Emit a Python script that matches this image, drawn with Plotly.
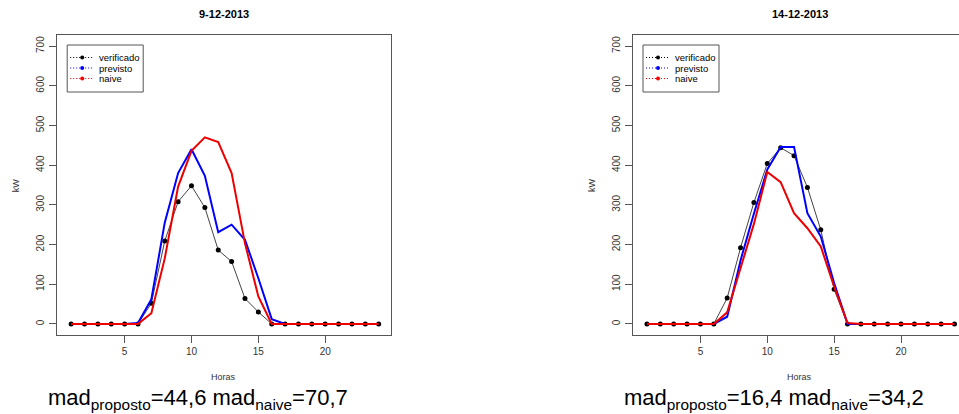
import plotly.graph_objects as go

# ---------------- data ----------------
hours = list(range(1, 25))

title_left = "9-12-2013"
verificado_left = [0, 0, 0, 0, 0, 0, 52, 209, 308, 348, 293, 186, 157, 64, 30, 0, 0, 0, 0, 0, 0, 0, 0, 0]
previsto_left = [0, 0, 0, 0, 0, 2, 62, 255, 380, 440, 373, 231, 250, 212, 115, 12, 0, 0, 0, 0, 0, 0, 0, 0]
naive_left = [0, 0, 0, 0, 0, 0, 27, 165, 346, 436, 470, 458, 380, 203, 69, 0, 0, 0, 0, 0, 0, 0, 0, 0]
mad_left = ("44,6", "70,7")

title_right = "14-12-2013"
verificado_right = [0, 0, 0, 0, 0, 0, 65, 192, 306, 404, 444, 424, 344, 237, 87, 0, 0, 0, 0, 0, 0, 0, 0, 0]
previsto_right = [0, 0, 0, 0, 0, 0, 18, 160, 278, 389, 446, 446, 279, 220, 103, 0, 0, 0, 0, 0, 0, 0, 0, 0]
naive_right = [0, 0, 0, 0, 0, 0, 29, 138, 252, 383, 357, 279, 241, 195, 94, 2, 0, 0, 0, 0, 0, 0, 0, 0]
mad_right = ("16,4", "34,2")

x_ticks = [5, 10, 15, 20]
y_ticks = [0, 100, 200, 300, 400, 500, 600, 700]
legend_labels = ["verificado", "previsto", "naive"]
legend_colors = ["black", "blue", "red"]

# ---------------- layout helpers ----------------
W, H = 959, 414
FONT = "Arial, Liberation Sans, sans-serif"
AX = "#555555"
TXT = "#333333"


def fx(p):
    return p / W


def fy(p):
    return 1 - p / H


box_w = 334.3
left_x0 = 56.7
right_x0 = 632.5
top_y, bot_y = 35, 335

fig = go.Figure()

panels = [
    ("x", "y", verificado_left, previsto_left, naive_left),
    ("x2", "y2", verificado_right, previsto_right, naive_right),
]
for xa, ya, ver, prev, nai in panels:
    fig.add_trace(go.Scatter(x=hours, y=ver, xaxis=xa, yaxis=ya, mode="lines+markers",
                             line=dict(color="#444444", width=1),
                             marker=dict(color="black", size=5), showlegend=False))
    fig.add_trace(go.Scatter(x=hours, y=prev, xaxis=xa, yaxis=ya, mode="lines",
                             line=dict(color="#0000ff", width=2), showlegend=False))
    fig.add_trace(go.Scatter(x=hours, y=nai, xaxis=xa, yaxis=ya, mode="lines",
                             line=dict(color="#ee0000", width=2), showlegend=False))

common_x = dict(tickvals=x_ticks, ticks="outside", ticklen=7, tickcolor=AX, tickwidth=1,
                showline=True, linecolor=AX, linewidth=1, showgrid=False, zeroline=False,
                tickfont=dict(family=FONT, size=10, color=TXT))
common_y = dict(tickvals=y_ticks, ticks="outside", ticklen=7, tickcolor=AX, tickwidth=1,
                showline=True, linecolor=AX, linewidth=1, showgrid=False, zeroline=False,
                tickangle=-90, range=[-28, 728], ticklabelstandoff=1,
                tickfont=dict(family=FONT, size=10, color=TXT),
                domain=[fy(bot_y), fy(top_y)])

fig.update_layout(
    width=W, height=H, margin=dict(l=0, r=0, t=0, b=0),
    paper_bgcolor="white", plot_bgcolor="white", showlegend=False,
    xaxis=dict(common_x, domain=[fx(left_x0), fx(left_x0 + box_w)], range=[-0.08, 24.92],
               mirror=True, anchor="y"),
    yaxis=dict(common_y, mirror=True, anchor="x"),
    xaxis2=dict(common_x, domain=[fx(right_x0), 1.0],
                range=[-0.08, -0.08 + 25 * (W - right_x0) / box_w], mirror=True, anchor="y2"),
    yaxis2=dict(common_y, mirror=False, anchor="x2"),
)

shapes = []
annotations = []
for x0, title, mads in [(left_x0, title_left, mad_left), (right_x0, title_right, mad_right)]:
    cx = x0 + box_w / 2
    annotations.append(dict(text="<b>%s</b>" % title, x=fx(cx), y=fy(14), xref="paper", yref="paper",
                            showarrow=False, xanchor="center", yanchor="middle",
                            font=dict(family=FONT, size=11, color="black")))
    annotations.append(dict(text="Horas", x=fx(cx), y=fy(377), xref="paper", yref="paper",
                            showarrow=False, xanchor="center", yanchor="middle",
                            font=dict(family=FONT, size=9, color=TXT)))
    annotations.append(dict(text="kW", x=fx(x0 - 40.5), y=fy(185), xref="paper", yref="paper",
                            showarrow=False, xanchor="center", yanchor="middle", textangle=-90,
                            font=dict(family=FONT, size=9, color=TXT)))
    annotations.append(dict(text="mad<sub>proposto</sub>=%s mad<sub>naive</sub>=%s" % mads,
                            x=fx(x0 - 10.5), y=fy(399), xref="paper", yref="paper",
                            showarrow=False, xanchor="left", yanchor="middle",
                            font=dict(family=FONT, size=22, color="black")))
    # legend box
    lx0 = x0 + 10.5
    shapes.append(dict(type="rect", xref="paper", yref="paper",
                       x0=fx(lx0), x1=fx(lx0 + 76), y0=fy(92), y1=fy(45),
                       line=dict(color=AX, width=1), fillcolor="white"))
    for i, (lab, col) in enumerate(zip(legend_labels, legend_colors)):
        ry = 57.5 + i * 10.5
        shapes.append(dict(type="line", xref="paper", yref="paper",
                           x0=fx(lx0 + 3), x1=fx(lx0 + 27), y0=fy(ry), y1=fy(ry),
                           line=dict(color=col, width=1, dash="1px,2px")))
        shapes.append(dict(type="circle", xref="paper", yref="paper",
                           x0=fx(lx0 + 13), x1=fx(lx0 + 17), y0=fy(ry + 2), y1=fy(ry - 2),
                           line=dict(color=col, width=0), fillcolor=col))
        annotations.append(dict(text=lab, x=fx(lx0 + 30), y=fy(ry), xref="paper", yref="paper",
                                showarrow=False, xanchor="left", yanchor="middle",
                                font=dict(family=FONT, size=9.5, color="black")))

fig.update_layout(shapes=shapes, annotations=annotations)
fig.write_html("out.html", config={"displayModeBar": False},
               post_script="document.body.style.margin='0px';document.body.style.overflow='hidden';")
